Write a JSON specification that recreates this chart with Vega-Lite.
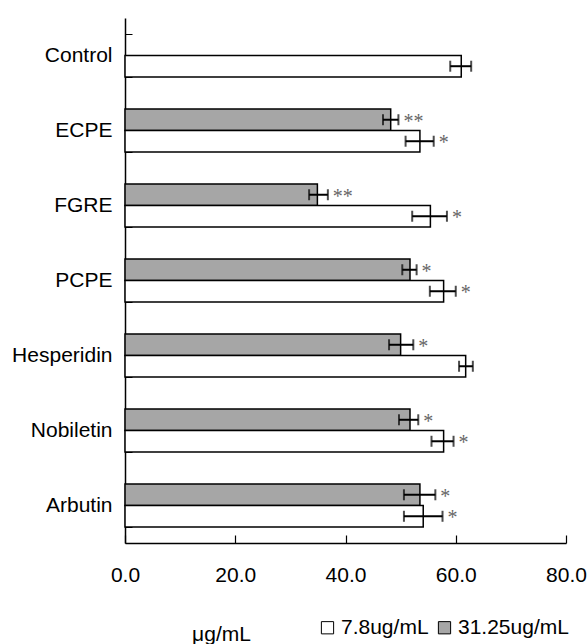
{
  "$schema": "https://vega.github.io/schema/vega-lite/v6.json",
  "autosize": {"type": "none"},
  "padding": {"left": 125, "top": 18, "right": 21, "bottom": 101},
  "width": 441,
  "height": 525,
  "config": {
    "view": {"stroke": null},
    "font": "Liberation Sans",
    "axis": {"grid": false, "domainColor": "black", "tickColor": "black", "labelColor": "black", "titleColor": "black", "labelFont": "Liberation Sans", "titleFont": "Liberation Sans"}
  },
  "data": {
    "values": [
      {"compound": "Control", "dose": "7.8ug/mL", "mean": 61.0, "lo": 59.0, "hi": 62.8, "sig": ""},
      {"compound": "ECPE", "dose": "31.25ug/mL", "mean": 48.2, "lo": 46.8, "hi": 49.6, "sig": "**"},
      {"compound": "ECPE", "dose": "7.8ug/mL", "mean": 53.5, "lo": 50.9, "hi": 56.0, "sig": "*"},
      {"compound": "FGRE", "dose": "31.25ug/mL", "mean": 34.9, "lo": 33.4, "hi": 36.8, "sig": "**"},
      {"compound": "FGRE", "dose": "7.8ug/mL", "mean": 55.4, "lo": 52.1, "hi": 58.4, "sig": "*"},
      {"compound": "PCPE", "dose": "31.25ug/mL", "mean": 51.7, "lo": 50.3, "hi": 52.9, "sig": "*"},
      {"compound": "PCPE", "dose": "7.8ug/mL", "mean": 57.8, "lo": 55.3, "hi": 60.0, "sig": "*"},
      {"compound": "Hesperidin", "dose": "31.25ug/mL", "mean": 50.0, "lo": 47.9, "hi": 52.3, "sig": "*"},
      {"compound": "Hesperidin", "dose": "7.8ug/mL", "mean": 61.8, "lo": 60.6, "hi": 63.1, "sig": ""},
      {"compound": "Nobiletin", "dose": "31.25ug/mL", "mean": 51.7, "lo": 49.7, "hi": 53.2, "sig": "*"},
      {"compound": "Nobiletin", "dose": "7.8ug/mL", "mean": 57.8, "lo": 55.6, "hi": 59.6, "sig": "*"},
      {"compound": "Arbutin", "dose": "31.25ug/mL", "mean": 53.5, "lo": 50.6, "hi": 56.3, "sig": "*"},
      {"compound": "Arbutin", "dose": "7.8ug/mL", "mean": 54.1, "lo": 50.6, "hi": 57.6, "sig": "*"}
    ]
  },
  "encoding": {
    "y": {
      "field": "compound", "type": "nominal",
      "scale": {"domain": ["Control", "ECPE", "FGRE", "PCPE", "Hesperidin", "Nobiletin", "Arbutin"], "paddingInner": 0.427, "paddingOuter": 0.213},
      "axis": {"title": null, "tickBand": "extent", "tickSize": -7, "labelPadding": 20, "labelFontSize": 21, "domainWidth": 1.5, "tickWidth": 1}
    },
    "yOffset": {"field": "dose", "type": "nominal", "scale": {"domain": ["31.25ug/mL", "7.8ug/mL"]}}
  },
  "layer": [
    {
      "mark": {"type": "bar", "stroke": "black", "strokeWidth": 1.5},
      "encoding": {
        "x": {
          "field": "mean", "type": "quantitative",
          "scale": {"domain": [0, 80], "nice": false},
          "axis": {"values": [0, 20, 40, 60, 80], "format": ".1f", "labelFlush": false, "tickSize": -8, "labelPadding": 29, "labelFontSize": 21, "domainWidth": 1.5, "tickWidth": 1.2,
                   "title": "μg/mL", "titleFontSize": 21, "titleFontWeight": "normal", "titleX": 96, "titleY": 97, "titleAlign": "center", "titleBaseline": "alphabetic"}
        },
        "color": {
          "field": "dose", "type": "nominal",
          "scale": {"domain": ["7.8ug/mL", "31.25ug/mL"], "range": ["white", "#a6a6a6"]},
          "legend": {"title": null, "orient": "none", "legendX": 192, "legendY": 599, "direction": "horizontal", "symbolType": "square", "symbolSize": 150, "symbolStrokeColor": "black", "symbolStrokeWidth": 1, "labelFontSize": 21, "labelColor": "black", "labelOffset": 3, "columnPadding": 5}
        }
      }
    },
    {
      "mark": {"type": "rule", "color": "black", "strokeWidth": 2},
      "encoding": {"x": {"field": "lo", "type": "quantitative"}, "x2": {"field": "hi"}}
    },
    {
      "mark": {"type": "tick", "color": "black", "thickness": 2, "size": 11},
      "encoding": {"x": {"field": "lo", "type": "quantitative"}}
    },
    {
      "mark": {"type": "tick", "color": "black", "thickness": 2, "size": 11},
      "encoding": {"x": {"field": "hi", "type": "quantitative"}}
    },
    {
      "mark": {"type": "text", "align": "left", "baseline": "middle", "dx": 5, "dy": 2, "fontSize": 20, "font": "Liberation Serif", "color": "#666"},
      "encoding": {"x": {"field": "hi", "type": "quantitative"}, "text": {"field": "sig"}}
    }
  ]
}
